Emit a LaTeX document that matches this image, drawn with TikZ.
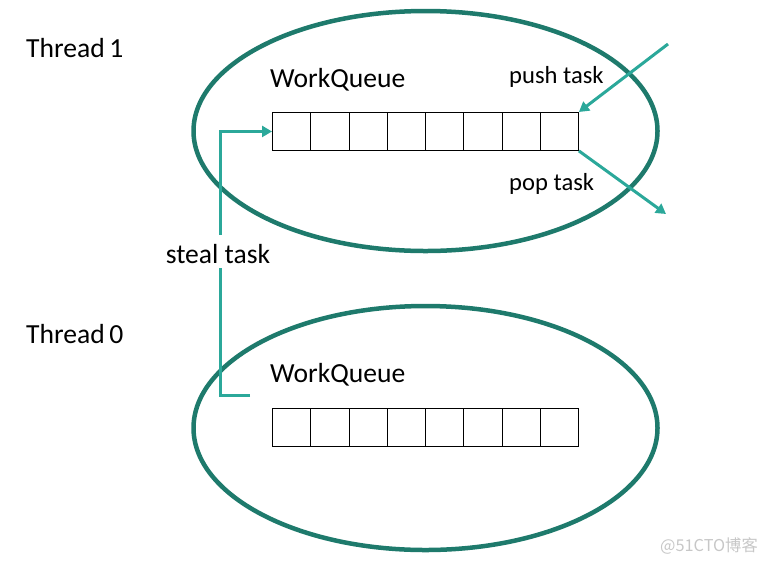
\documentclass[tikz,border=0pt]{standalone}
\usepackage{fontspec}
\setmainfont{Carlito}
\newfontfamily\cjkfont{Noto Sans CJK SC}
\usetikzlibrary{arrows.meta,calc}
\definecolor{ringc}{HTML}{1E7A6C}
\definecolor{arrc}{HTML}{2BA89A}
\tikzset{
  ring/.style={draw=ringc,line width=4.5pt},
  cellbox/.style={draw=black,line width=0.9pt,minimum width=38.25pt,minimum height=38pt,inner sep=0pt,anchor=north west},
  lbl/.style={inner sep=0pt,anchor=west,font=\fontsize{27.6}{31}\selectfont},
  small/.style={inner sep=0pt,anchor=west,font=\fontsize{24.6}{28}\selectfont},
  flow/.style={draw=arrc,line width=3pt,-{Triangle[length=10pt,width=11pt]}},
  flowplain/.style={draw=arrc,line width=3pt}
}
\begin{document}
\begin{tikzpicture}[x=1pt,y=-1pt]
\useasboundingbox (0,0) rectangle (767,563);
% rings
\draw[ring] (425.5,131) ellipse [x radius=232,y radius=120];
\draw[ring] (425.5,428) ellipse [x radius=232,y radius=122];
% queues
\foreach \i in {0,...,7}{
  \node[cellbox] (t\i) at (272+\i*38.25,112) {};
  \node[cellbox] (b\i) at (272+\i*38.25,408) {};
}
% labels
\node[lbl] (th1) at (26,48) {Thread\,1};
\node[lbl] (th0) at (26,334) {Thread\,0};
\node[lbl] (wq1) at (270,80) {WorkQueue};
\node[lbl] (wq0) at (270,375) {WorkQueue};
\node[small] (push) at (509,77) {push task};
\node[small] (pop) at (509,184) {pop task};
\node[lbl,anchor=center] (steal) at (218,254) {steal task};
% arrows
\coordinate (pushsrc) at (668,44);
\coordinate (popdst) at (666,214);
\coordinate (stealsrc) at (250,395);
\draw[flow] (pushsrc) -- (t7.north east);
\draw[flow] (t7.south east) -- (popdst);
\draw[flowplain] (stealsrc) -| ($(steal.south)+(2,4)$);
\draw[flow] ($(steal.north)+(2,-9)$) |- (t0.west);
% watermark
\node[inner sep=0pt,anchor=west,text=black!22,font=\cjkfont\fontsize{16.3}{18}\selectfont] (wm) at (660,546) {@51CTO博客};
\end{tikzpicture}
\end{document}
